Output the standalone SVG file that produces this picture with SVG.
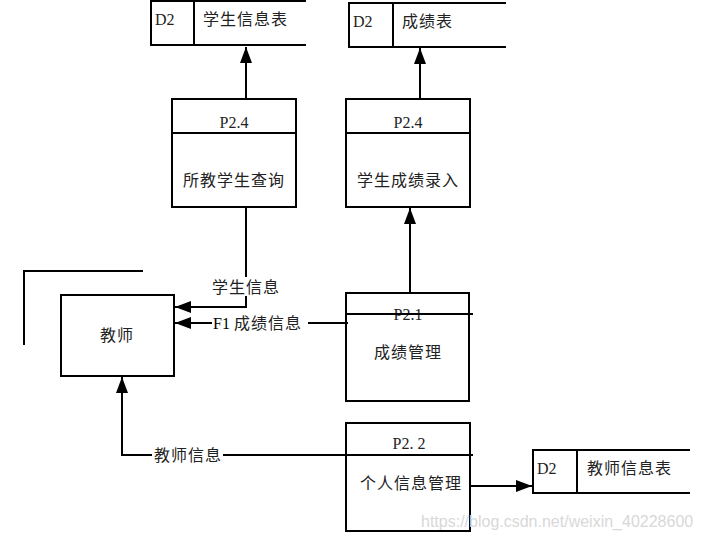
<svg xmlns="http://www.w3.org/2000/svg" width="702" height="540" viewBox="0 0 702 540">
<style>
.l{fill:none;stroke:#000;stroke-width:2}
.t{font-family:"Liberation Serif","Noto Sans CJK SC",serif;font-size:16px;fill:#222}
.c{letter-spacing:1px}
.m{text-anchor:middle}
.w{font-family:"Liberation Sans",sans-serif;font-size:16px;fill:#d8d8d8}
</style>
<defs>
<marker id="b" viewBox="0 0 16 12" refX="16" refY="6" markerWidth="16" markerHeight="12" markerUnits="userSpaceOnUse" orient="auto"><path d="M0,0L16,6L0,12z" fill="#000"/></marker>
</defs>
<rect width="702" height="540" fill="#fff"/>
<g id="d2-student">
<path class="l" d="M306,1H151V45H306M194,1V45"/>
<text class="t" x="155" y="25">D2</text>
<text class="t c" x="203" y="25">学生信息表</text>
</g>
<g id="d2-score">
<path class="l" d="M506,3H349V47H506M393,3V47"/>
<text class="t" x="353" y="27">D2</text>
<text class="t c" x="402" y="27">成绩表</text>
</g>
<g id="p24a">
<rect class="l" x="172" y="99" width="124" height="108"/>
<path class="l" d="M172,133H296"/>
<text class="t m" x="234" y="128">P2.4</text>
<text class="t m c" x="234" y="186">所教学生查询</text>
</g>
<g id="p24b">
<rect class="l" x="346" y="99" width="124" height="108"/>
<path class="l" d="M346,133H470"/>
<text class="t m" x="408" y="128">P2.4</text>
<text class="t m c" x="408" y="186">学生成绩录入</text>
</g>
<g id="teacher">
<path class="l" d="M143,271H24V345"/>
<rect class="l" x="61" y="295" width="113" height="81"/>
<text class="t m c" x="117" y="341">教师</text>
</g>
<g id="p21">
<rect class="l" x="346" y="293" width="123" height="108"/>
<text class="t m" x="408" y="320">P2.1</text>
<path class="l" d="M346,314H473"/>
<text class="t m c" x="408" y="358">成绩管理</text>
</g>
<g id="p22">
<rect class="l" x="346" y="423" width="124" height="108"/>
<path class="l" d="M346,455H473"/>
<text class="t m" x="409" y="449">P2. 2</text>
<text class="t m c" x="411" y="489">个人信息管理</text>
</g>
<g id="d2-teacher">
<path class="l" d="M690,450H533V493H690M577,450V493"/>
<text class="t" x="537" y="474">D2</text>
<text class="t c" x="587" y="474">教师信息表</text>
</g>
<g id="connectors">
<path class="l" d="M246,98V47" marker-end="url(#b)"/>
<path class="l" d="M420,98V48" marker-end="url(#b)"/>
<path class="l" d="M410,293V208" marker-end="url(#b)"/>
<path class="l" d="M246,207V307H175" marker-end="url(#b)"/>
<path class="l" d="M348,323H175" marker-end="url(#b)"/>
<path class="l" d="M346,455H122V377" marker-end="url(#b)"/>
<path class="l" d="M470,486H532" marker-end="url(#b)"/>
<rect x="209" y="277" width="74" height="19" fill="#fff"/>
<text class="t m c" x="246" y="293">学生信息</text>
<rect x="212" y="314" width="96" height="18" fill="#fff"/>
<text class="t" x="213" y="329"><tspan fill="#000">F1</tspan> <tspan class="c">成绩信息</tspan></text>
<rect x="152" y="446" width="71" height="19" fill="#fff"/>
<text class="t m c" x="188" y="461">教师信息</text>
</g>
<text class="w" x="421" y="527">https://blog.csdn.net/weixin_40228600</text>
</svg>
